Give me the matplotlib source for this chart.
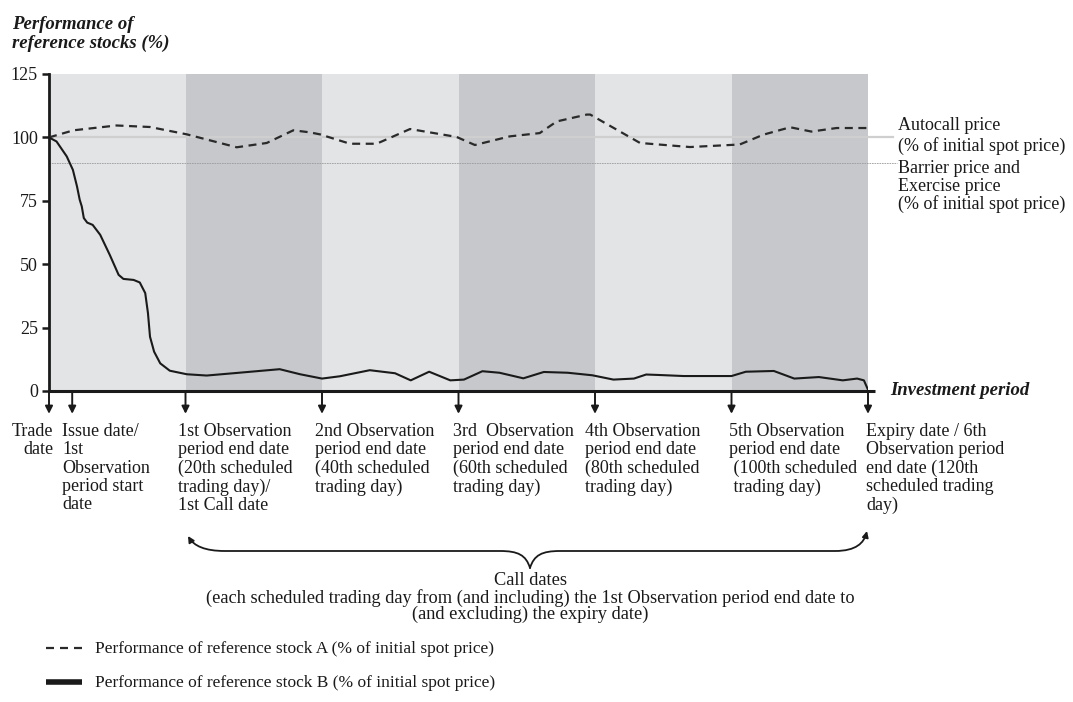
import matplotlib
matplotlib.use("Agg")
import matplotlib.pyplot as plt
from matplotlib.path import Path
from matplotlib.patches import FancyArrowPatch

plt.rcParams['font.family'] = ['Liberation Serif', 'DejaVu Serif']

# ---------------- data ----------------
obs_days = [0, 20, 40, 60, 80, 100, 120]
issue_day = 3.4
autocall_level = 100
barrier_level = 90
y_ticks = [0, 25, 50, 75, 100, 125]

stock_a_days = [0, 3.6, 9.9, 14.8, 20.2, 27.5, 31.9, 35.8, 38.2, 39.7, 44.1, 48, 52.9,
                59.7, 62.4, 67.5, 71.9, 74.4, 78.8, 79.3, 86.6, 93.9, 101.2, 104.7,
                108.6, 111.7, 115.4, 120]
stock_a_vals = [100, 102.8, 104.7, 104.1, 101.2, 96.1, 97.8, 102.8, 102.0, 101.2, 97.5, 97.5,
                103.3, 100.2, 97.0, 100.4, 101.7, 106.3, 109.0, 109.0, 97.8, 96.2, 97.2,
                101.1, 104.0, 102.3, 103.7, 103.7]

stock_b_days = [0, 1.1, 2.6, 3.5, 4.1, 4.5, 4.8, 5.1, 5.6, 6.4, 7.5, 8.9, 10.2, 10.9,
                12.4, 13.3, 14.1, 14.5, 14.8, 15.4, 16.3, 17.7, 20.2, 23.1, 27, 33.8,
                36.8, 40, 42.6, 47, 50.7, 53, 55.7, 58.8, 60.8, 63.5, 66, 69.5, 72.5,
                76, 79.6, 82.7, 85.7, 87.5, 89.5, 93, 100, 102.1, 106.2, 109.2, 112.8,
                116.3, 118.4, 119.4, 120]
stock_b_vals = [100, 98.4, 92.5, 87.2, 80.7, 75.4, 72.8, 68.2, 66.4, 65.5, 61.6, 53.7,
                45.8, 44.2, 43.8, 42.8, 38.6, 30.7, 21.4, 15.5, 10.9, 8.0, 6.6, 6.1, 7.0,
                8.6, 6.6, 4.9, 5.8, 8.2, 7.0, 4.2, 7.6, 4.2, 4.5, 7.8, 7.2, 5.0, 7.5,
                7.2, 6.2, 4.5, 4.9, 6.5, 6.3, 5.9, 5.9, 7.6, 7.9, 4.9, 5.5, 4.2, 4.9,
                4.2, 0.5]

date_labels = [
    "Trade\ndate",
    "Issue date/\n1st\nObservation\nperiod start\ndate",
    "1st Observation\nperiod end date\n(20th scheduled\ntrading day)/\n1st Call date",
    "2nd Observation\nperiod end date\n(40th scheduled\ntrading day)",
    "3rd  Observation\nperiod end date\n(60th scheduled\ntrading day)",
    "4th Observation\nperiod end date\n(80th scheduled\ntrading day)",
    "5th Observation\nperiod end date\n (100th scheduled\n trading day)",
    "Expiry date / 6th\nObservation period\nend date (120th\nscheduled trading\nday)",
]
label_days = [0, issue_day, 20, 40, 60, 80, 100, 120]

# ---------------- figure ----------------
W, H = 1073, 702
fig = plt.figure(figsize=(W / 100, H / 100), dpi=100)
fx = lambda px: px / W
fy = lambda py: 1 - py / H
INK = '#1a1a1a'

ax = fig.add_axes([fx(49), fy(391), fx(868) - fx(49), fy(74) - fy(391)])
ax.set_xlim(0, 120)
ax.set_ylim(0, 125)

light, dark = '#e3e4e6', '#c6c8cb'
for i in range(len(obs_days) - 1):
    ax.axvspan(obs_days[i], obs_days[i + 1], color=light if i % 2 == 0 else dark,
               lw=0, zorder=0)

ax.plot([0, 123.7], [autocall_level] * 2, color='#cfcfcf', lw=1.6, zorder=1,
        clip_on=False)
ax.plot([0, 124.2], [barrier_level] * 2, color='#9a9a9a', lw=0.6, ls=(0, (2, 1)),
        zorder=1, clip_on=False)

ax.plot(stock_a_days, stock_a_vals, color='#2a2a2a', lw=1.6, ls=(0, (3.6, 2.5)), zorder=3)
ax.plot(stock_b_days, stock_b_vals, color=INK, lw=1.5, zorder=3)

for s in ['top', 'right', 'bottom']:
    ax.spines[s].set_visible(False)
ax.spines['left'].set_linewidth(2)
ax.spines['left'].set_color(INK)
ax.set_xticks([])
ax.set_yticks(y_ticks)
ax.tick_params(axis='y', length=5, width=1.8, pad=3, labelsize=13, colors=INK)

# bottom axis line
ax.plot([0, 121], [0, 0], color=INK, lw=2.2, clip_on=False, zorder=4,
        solid_capstyle='butt')

# arrows below axis
xt = ax.get_xaxis_transform()
for d in label_days:
    ax.annotate('', xy=(d, -0.072), xytext=(d, 0), xycoords=xt, textcoords=xt,
                arrowprops=dict(arrowstyle='-|>', lw=1.4, color=INK,
                                mutation_scale=11, shrinkA=0, shrinkB=0),
                annotation_clip=False)

# labels below arrows
label_x_px = [53, 62, 178, 315, 453, 585, 729, 866]
for i, (lab, xp) in enumerate(zip(date_labels, label_x_px)):
    fig.text(fx(xp), fy(423), lab, ha='right' if i == 0 else 'left', va='top',
             fontsize=13, multialignment='right' if i == 0 else 'left',
             color=INK, linespacing=1.1)

# title & axis label
fig.text(fx(12), fy(16), "Performance of\nreference stocks (%)", ha='left', va='top',
         fontsize=13.5, fontweight='bold', fontstyle='italic', color=INK,
         linespacing=1.12)
fig.text(fx(890), fy(391), "Investment period", ha='left', va='center', fontsize=13.5,
         fontweight='bold', fontstyle='italic', color=INK)

# right annotations
fig.text(fx(898), fy(117), "Autocall price\n(% of initial spot price)", ha='left',
         va='top', fontsize=13, color=INK, linespacing=1.25)
fig.text(fx(898), fy(160), "Barrier price and\nExercise price\n(% of initial spot price)",
         ha='left', va='top', fontsize=13, color=INK, linespacing=1.05)

# brace
def P(px, py):
    return (fx(px), fy(py))

left_half = Path([P(530, 568), P(526, 555), P(518, 551), P(500, 551),
                  P(225, 551),
                  P(205, 551), P(194, 546), P(188, 536)],
                 [Path.MOVETO, Path.CURVE4, Path.CURVE4, Path.CURVE4,
                  Path.LINETO,
                  Path.CURVE4, Path.CURVE4, Path.CURVE4])
right_half = Path([P(530, 568), P(534, 555), P(542, 551), P(560, 551),
                   P(835, 551),
                   P(856, 551), P(864, 543), P(867, 531)],
                  [Path.MOVETO, Path.CURVE4, Path.CURVE4, Path.CURVE4,
                   Path.LINETO,
                   Path.CURVE4, Path.CURVE4, Path.CURVE4])
for pth in (left_half, right_half):
    fig.patches.append(FancyArrowPatch(path=pth, arrowstyle='-|>', mutation_scale=9,
                                       lw=1.3, color=INK,
                                       transform=fig.transFigure, figure=fig))

fig.text(fx(530), fy(572),
         "Call dates\n(each scheduled trading day from (and including) the 1st Observation period end date to\n(and excluding) the expiry date)",
         ha='center', va='top', fontsize=13.2, multialignment='center',
         color=INK, linespacing=0.97)

# legend
fig.add_artist(plt.Line2D([fx(46), fx(82)], [fy(648), fy(648)], color='#2a2a2a', lw=1.6,
                          ls=(0, (3.6, 2.7)), dash_capstyle='butt'))
fig.add_artist(plt.Line2D([fx(46), fx(82)], [fy(682), fy(682)], color=INK, lw=4,
                          solid_capstyle='butt'))
fig.text(fx(95), fy(649), "Performance of reference stock A (% of initial spot price)",
         ha='left', va='center', fontsize=12.5, color=INK)
fig.text(fx(95), fy(683), "Performance of reference stock B (% of initial spot price)",
         ha='left', va='center', fontsize=12.5, color=INK)

fig.savefig("out.png", dpi=100, facecolor='white')
